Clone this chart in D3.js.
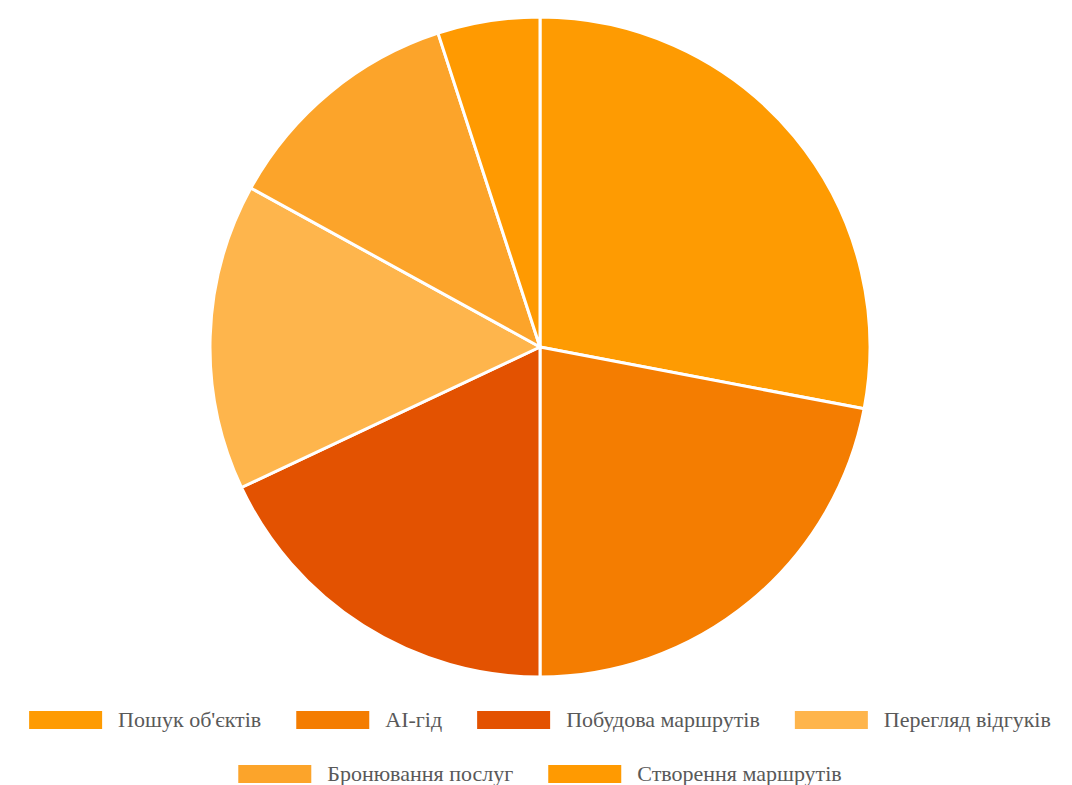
<!DOCTYPE html>
<html><head><meta charset="utf-8">
<script src="https://cdn.jsdelivr.net/npm/d3@7"></script>
<style>body{margin:0;background:#fff}svg{display:block}
.lg{font-family:"Liberation Serif","DejaVu Serif","Times New Roman",serif;font-size:22px;fill:#595959}</style>
</head><body>
<svg id="c" width="1072" height="785"></svg>
<script>
const categories = ["Пошук об'єктів","AI-гід","Побудова маршрутів","Перегляд відгуків","Бронювання послуг","Створення маршрутів"];
const values = [28,22,18,15,12,5];
const colors = ["#FE9B02","#F47D01","#E35201","#FEB54C","#FCA42A","#FF9A01"];

const svg = d3.select("#c");
const cx = 540, cy = 347, R = 330;
const pie = d3.pie().sort(null).value(d=>d)(values);
const arc = d3.arc().innerRadius(0).outerRadius(R);
const g = svg.append("g").attr("transform",`translate(${cx},${cy})`);
g.selectAll("path").data(pie).join("path")
  .attr("d",arc).attr("fill",(d,i)=>colors[i])
  .attr("stroke","#fff").attr("stroke-width",3).attr("stroke-linejoin","round");

// legend
const rows = [[0,1,2,3],[4,5]];
const rowY = [720,774];
const boxW = 73, boxH = 18, gapBT = 16, gapItem = 35;
const meas = svg.append("text").attr("class","lg").attr("visibility","hidden");
function tw(t){meas.text(t);return meas.node().getComputedTextLength();}
rows.forEach((row,ri)=>{
  const widths = row.map(i=>boxW+gapBT+tw(categories[i]));
  const total = d3.sum(widths)+gapItem*(row.length-1);
  let x = 540-total/2;
  row.forEach((i,k)=>{
    svg.append("rect").attr("x",x).attr("y",rowY[ri]-boxH/2).attr("width",boxW).attr("height",boxH).attr("fill",colors[i]);
    svg.append("text").attr("class","lg").attr("x",x+boxW+gapBT).attr("y",rowY[ri]).attr("dy","0.33em")
      .text(categories[i]);
    x += widths[k]+gapItem;
  });
});
meas.remove();
</script>
</body></html>
